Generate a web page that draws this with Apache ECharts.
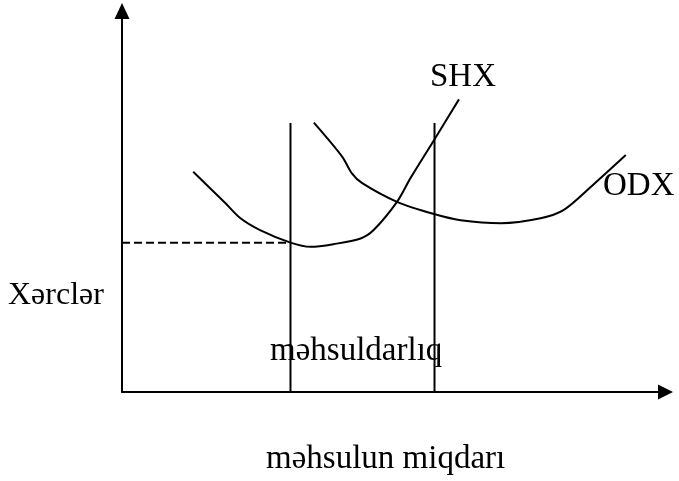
<!DOCTYPE html>
<html>
<head>
<meta charset="utf-8">
<title>SHX ODX</title>
<script src="https://cdn.jsdelivr.net/npm/echarts@6/dist/echarts.min.js"></script>
<style>
    html, body { margin: 0; padding: 0; background: #fff; }
    #main { width: 679px; height: 481px; }
</style>
</head>
<body>
<div id="main"></div>
<script>
// şərti vahidlər: miqdar 0-100, xərclər 0-100
var shxX = [13.1, 19.0, 21.8, 25.4, 31.0, 34.7, 38.9, 43.9, 46.3, 50.6, 53.1, 57.4, 62.0];
var shxY = [57.8, 49.6, 45.6, 42.5, 39.2, 38.1, 38.8, 40.3, 42.5, 49.9, 56.2, 66.1, 76.8];
var odxX = [35.3, 40.5, 42.3, 44.2, 50.6, 57.4, 62.3, 69.7, 77.0, 81.3, 86.3, 92.7];
var odxY = [70.7, 61.8, 57.4, 54.8, 49.9, 46.7, 45.1, 44.3, 45.6, 47.8, 53.9, 62.2];
var qLines = [31.0, 57.5];     // məhsuldarlıq sərhədləri
var qLineTop = 70.6;
var costLevel = 39.2;          // kəsik xətt

function pairs(xs, ys) {
    var out = [];
    for (var i = 0; i < xs.length; i++) {
        out.push([xs[i], ys[i]]);
    }
    return out;
}

var font = '"Liberation Serif", "Times New Roman", serif';
var black = '#000';

var myChart = echarts.init(document.getElementById('main'));

var series = [
    {
        name: 'SHX',
        type: 'line',
        data: pairs(shxX, shxY),
        smooth: 0.3,
        showSymbol: false,
        lineStyle: { color: black, width: 2 }
    },
    {
        name: 'ODX',
        type: 'line',
        data: pairs(odxX, odxY),
        smooth: 0.3,
        showSymbol: false,
        lineStyle: { color: black, width: 2 }
    },
    {
        name: 'level',
        type: 'line',
        data: [[0, costLevel], [qLines[0], costLevel]],
        showSymbol: false,
        lineStyle: { color: black, width: 2, type: [8, 4] }
    }
];
qLines.forEach(function (q, i) {
    series.push({
        name: 'q' + i,
        type: 'line',
        data: [[q, 0], [q, qLineTop]],
        showSymbol: false,
        lineStyle: { color: black, width: 2 }
    });
});

var option = {
    animation: false,
    grid: { left: 122, right: 13.5, top: 11, bottom: 89 },
    xAxis: {
        type: 'value',
        min: 0,
        max: 100,
        axisLine: {
            show: true,
            symbol: ['none', 'triangle'],
            symbolSize: [15, 15],
            lineStyle: { color: black, width: 2 }
        },
        axisTick: { show: false },
        axisLabel: { show: false },
        splitLine: { show: false }
    },
    yAxis: {
        type: 'value',
        min: 0,
        max: 100,
        axisLine: {
            show: true,
            symbol: ['none', 'triangle'],
            symbolSize: [15, 16],
            lineStyle: { color: black, width: 2 }
        },
        axisTick: { show: false },
        axisLabel: { show: false },
        splitLine: { show: false }
    },
    graphic: [
        { type: 'text', left: 430, top: 61, style: { text: 'SHX', font: '33px ' + font, fill: black } },
        { type: 'text', left: 603, top: 170, style: { text: 'ODX', font: '33px ' + font, fill: black } },
        { type: 'text', left: 8, top: 280, style: { text: 'Xərclər', font: '32px ' + font, fill: black } },
        { type: 'text', left: 270, top: 335, style: { text: 'məhsuldarlıq', font: '33px ' + font, fill: black } },
        { type: 'text', left: 266, top: 443, style: { text: 'məhsulun miqdarı', font: '33px ' + font, fill: black } }
    ],
    series: series
};
myChart.setOption(option);
</script>
</body>
</html>
